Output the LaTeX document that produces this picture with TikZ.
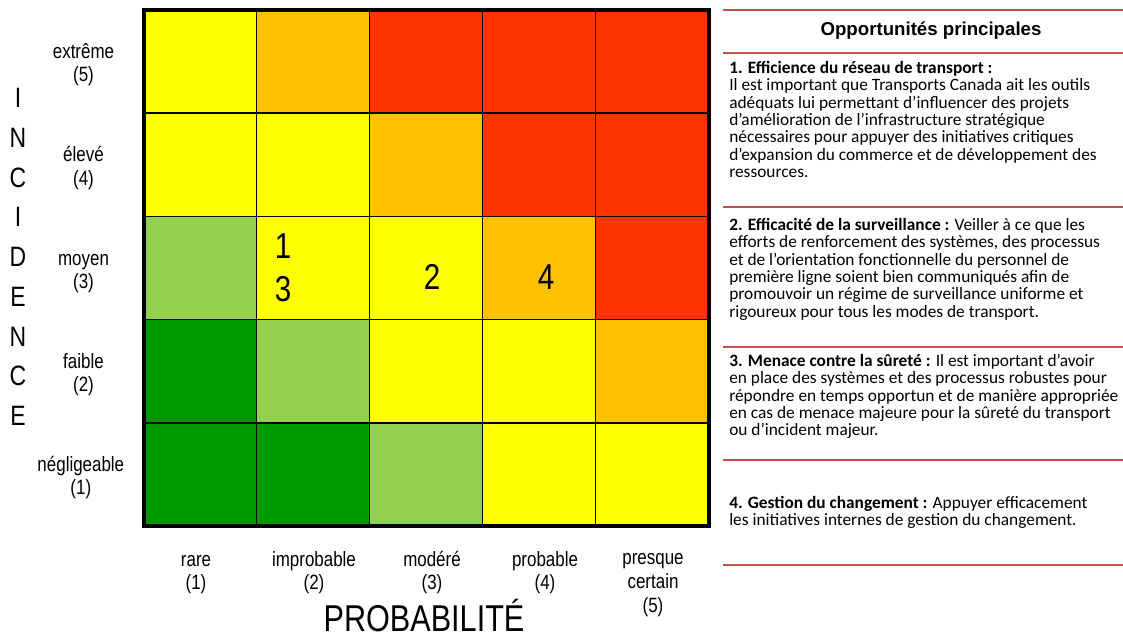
\documentclass[tikz,border=0pt]{standalone}
\usepackage{fontspec}
\setmainfont{Carlito}
\newfontfamily\narrowsf[FakeStretch=0.82]{Liberation Sans}
\newfontfamily\headsf{Liberation Sans}
\usetikzlibrary{positioning}
\definecolor{riskY}{HTML}{FFFF00}
\definecolor{riskO}{HTML}{FFC000}
\definecolor{riskR}{HTML}{FF3300}
\definecolor{riskLG}{HTML}{92D050}
\definecolor{riskDG}{HTML}{009900}
\definecolor{sepred}{HTML}{C0504D}
\tikzset{cell/.style={rectangle,draw=black,line width=1.1pt,minimum width=84.75pt,minimum height=77.4pt,inner sep=0pt,outer sep=0pt}}
\tikzset{axislabel/.style={font=\narrowsf\fontsize{15.5}{17.5}\selectfont,align=center,inner sep=0pt}}
\tikzset{axistitle/.style={font=\narrowsf\fontsize{28}{30}\selectfont,align=center,inner sep=0pt}}
\tikzset{cellnum/.style={font=\narrowsf\fontsize{27}{30}\selectfont,inner sep=0pt}}
\tikzset{heading/.style={font=\headsf\bfseries\fontsize{14}{16}\selectfont,inner sep=0pt}}
\tikzset{para/.style={font=\fontsize{13}{13}\selectfont,align=left,anchor=north west,inner sep=0pt}}
\tikzset{sep/.style={draw=sepred,line width=1.5pt}}

\begin{document}
\begin{tikzpicture}[x=0.75pt,y=-0.75pt]
\useasboundingbox (0,0) rectangle (1123,639);
% risk matrix, row 5 on top
\foreach \r/\cols in {5/{Y,O,R,R,R},4/{Y,Y,O,R,R},3/{LG,Y,Y,O,R},2/{DG,LG,Y,Y,O},1/{DG,DG,LG,Y,Y}}
  \foreach \col [count=\c] in \cols
    \node (c\c\r) [cell, fill=risk\col] at ({143.5+113*(\c-0.5)},{10+103.2*(5.5-\r)}) {};
\draw[line width=3pt] (c15.north west) rectangle (c51.south east);
% numbers in cells
\node (num1) [cellnum] at (283,246) {1};
\node (num3) [cellnum] at (283,289) {3};
\node (num2) [cellnum] at (432,277) {2};
\node (num4) [cellnum] at (546,277) {4};
% incidence axis
\node (incidence) [axistitle, font=\narrowsf\fontsize{21}{29.8}\selectfont] at (18,257) {I\\N\\C\\I\\D\\E\\N\\C\\E};
\node (inc5) [axislabel] at ([xshift=-45pt,yshift=-2pt]c15.center -| c15.west) {\strut extrême\\(5)};
\node (inc4) [axislabel] at ([xshift=-45pt,yshift=-2pt]c14.center -| c14.west) {\strut élevé\\(4)};
\node (inc3) [axislabel] at ([xshift=-45pt,yshift=-2pt]c13.center -| c13.west) {\strut moyen\\(3)};
\node (inc2) [axislabel] at ([xshift=-45pt,yshift=-2pt]c12.center -| c12.west) {\strut faible\\(2)};
\node (inc1) [axislabel] at ([xshift=-47pt,yshift=-2pt]c11.center -| c11.west) {\strut négligeable\\(1)};
% probability axis
\node (prob1) [axislabel] at (196,572) {\strut rare\\(1)};
\node (prob2) [axislabel] at (314,572) {\strut improbable\\(2)};
\node (prob3) [axislabel] at (432,572) {\strut modéré\\(3)};
\node (prob4) [axislabel] at (545,572) {\strut probable\\(4)};
\node (prob5) [axislabel, font=\narrowsf\fontsize{15.5}{18}\selectfont] at (653,582) {\strut presque\\certain\\(5)};
\node (probability) [axistitle, anchor=base] at (424,631) {PROBABILITÉ};
% opportunities panel
\foreach \y in {10,53,207,347,460,565}
  \draw[sep] (723,\y) -- (1123,\y);
\node (head) [heading] at (931,31) {Opportunités principales};
\node (opp1) [para] at (729,61) {\textbf{1. Efficience du réseau de transport :}\\
Il est important que Transports Canada ait les outils\\
adéquats lui permettant d’influencer des projets\\
d’amélioration de l’infrastructure stratégique\\
nécessaires pour appuyer des initiatives critiques\\
d’expansion du commerce et de développement des\\
ressources.};
\node (opp2) [para] at (729,218) {\textbf{2. Efficacité de la surveillance :} Veiller à ce que les\\
efforts de renforcement des systèmes, des processus\\
et de l’orientation fonctionnelle du personnel de\\
première ligne soient bien communiqués afin de\\
promouvoir un régime de surveillance uniforme et\\
rigoureux pour tous les modes de transport.};
\node (opp3) [para] at (729,354) {\textbf{3. Menace contre la sûreté :} Il est important d’avoir\\
en place des systèmes et des processus robustes pour\\
répondre en temps opportun et de manière appropriée\\
en cas de menace majeure pour la sûreté du transport\\
ou d’incident majeur.};
\node (opp4) [para] at (729,496) {\textbf{4. Gestion du changement :} Appuyer efficacement\\
les initiatives internes de gestion du changement.};
\end{tikzpicture}
\end{document}
